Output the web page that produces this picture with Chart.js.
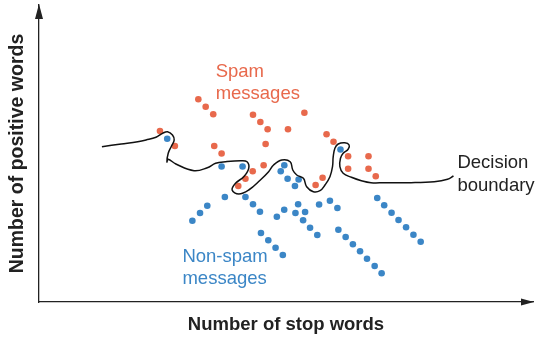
<!DOCTYPE html>
<html>
<head>
<meta charset="utf-8">
<script src="https://cdn.jsdelivr.net/npm/chart.js@4/dist/chart.umd.min.js"></script>
<style>
  html, body { margin: 0; padding: 0; background: #ffffff; }
  #wrap { width: 537px; height: 337px; position: relative; }
</style>
</head>
<body>
<div id="wrap"><canvas id="c"></canvas></div>
<script>
// ---- Data (x = number of stop words, y = number of positive words; arbitrary units) ----
const spamX = [160.3, 167.7, 175.3, 121.7, 136.7, 176.3, 183.7, 215.3, 222.7, 230.0, 250.5, 228.0, 226.0,
               215.0, 207.7, 200.5, 267.0, 289.3, 296.3, 311.0, 331.5, 311.0, 331.5, 338.8, 285.3, 278.3];
const spamY = [202.7, 195.3, 187.7, 171.0, 156.0, 156.0, 148.5, 187.3, 180.0, 172.7, 172.8, 158.0, 136.7,
               130.7, 123.2, 116.0, 189.3, 167.7, 160.3, 145.7, 145.7, 133.3, 133.3, 125.7, 124.2, 117.0];

const hamX = [129.0, 183.7, 204.8, 246.8, 243.2, 250.1, 261.2, 257.5, 303.3,
              187.0, 207.7, 215.3, 222.3, 169.3, 162.0, 154.3,
              260.7, 246.7, 239.3, 258.0, 267.7, 265.7, 272.7, 280.0,
              281.8, 292.7, 300.2, 301.2, 308.5, 315.8, 323.0, 330.0, 337.7, 344.7,
              340.3, 347.3, 354.7, 361.7, 369.3, 376.7, 384.0,
              223.3, 230.7, 238.0, 245.3];
const hamY = [163.3, 135.5, 135.5, 136.8, 130.8, 123.3, 122.5, 116.0, 152.5,
              105.0, 105.0, 97.7, 90.3, 96.3, 89.0, 81.3,
              97.7, 92.3, 85.3, 89.0, 90.0, 81.7, 74.3, 67.0,
              97.5, 101.3, 94.0, 72.3, 65.0, 57.7, 50.7, 43.3, 36.0, 28.7,
              104.0, 96.7, 89.3, 82.0, 74.7, 67.3, 60.3,
              69.0, 61.7, 54.3, 47.0];

// decision boundary (hand-drawn curve) sampled points
const boundaryX = [63.3, 82.7, 99.3, 107.7, 117.7, 124.3, 129.3, 134.3, 136.0, 133.3, 130.0, 128.7, 130.0,
                   137.7, 156.0, 169.3, 177.7, 187.7, 202.7, 209.3, 211.0, 206.0, 197.7, 194.3, 201.0,
                   211.0, 222.7, 231.0, 236.0, 244.3, 252.7, 255.3, 259.3, 266.0, 269.3, 276.0, 282.7,
                   287.7, 292.7, 295.3, 296.0, 297.7, 301.0, 307.7, 312.0, 311.0, 306.0, 303.3, 302.7,
                   306.0, 314.3, 324.3, 334.0, 347.7, 374.3, 397.7, 411.0, 417.0];
const boundaryY = [155.3, 158.0, 160.3, 162.0, 164.7, 168.7, 170.3, 167.0, 162.0, 156.0, 148.7, 140.0, 142.7,
                   138.0, 131.3, 134.3, 138.7, 140.3, 141.3, 140.3, 133.7, 125.3, 118.7, 112.0, 108.0,
                   112.0, 122.0, 130.3, 137.0, 142.0, 140.3, 132.0, 127.0, 123.7, 115.3, 110.3, 111.3,
                   117.0, 125.3, 135.3, 145.3, 153.7, 158.0, 159.3, 157.0, 152.7, 148.7, 143.7, 135.3,
                   128.7, 124.7, 121.3, 119.3, 119.3, 119.3, 120.3, 122.7, 126.0];

const xTitle = 'Number of stop words';
const yTitle = 'Number of positive words';
const spamLabel = ['Spam', 'messages'];
const hamLabel = ['Non-spam', 'messages'];
const boundaryLabel = ['Decision', 'boundary'];

// ---- Styling ----
const RED = '#E8694C';
const BLUE = '#3B86C6';
const INK = '#222222';
const LABEL_FONT = '18.5px "Liberation Sans", Arial, sans-serif';

const toPts = (xs, ys) => xs.map((x, i) => ({ x: x, y: ys[i] }));

// text annotations anchored in data coordinates (left edge, first baseline)
const annotations = [
  { lines: spamLabel, x: 177.7, y: 225.0, color: RED },
  { lines: hamLabel, x: 144.3, y: 40.3, color: BLUE },
  { lines: boundaryLabel, x: 421.0, y: 133.7, color: INK }
];

const labelPlugin = {
  id: 'labels',
  afterDatasetsDraw(chart) {
    const { ctx, scales: { x, y } } = chart;
    ctx.save();
    ctx.font = LABEL_FONT;
    ctx.textAlign = 'left';
    ctx.textBaseline = 'alphabetic';
    annotations.forEach(a => {
      ctx.fillStyle = a.color;
      const px = x.getPixelForValue(a.x);
      const py = y.getPixelForValue(a.y);
      a.lines.forEach((t, i) => ctx.fillText(t, px, py + i * 22.3));
    });
    ctx.restore();
  }
};

const arrowPlugin = {
  id: 'arrows',
  afterDraw(chart) {
    const { ctx, chartArea: ca } = chart;
    ctx.save();
    ctx.fillStyle = INK;
    // y-axis arrow
    const ax = ca.left;
    ctx.beginPath();
    ctx.moveTo(ax, ca.top - 1);
    ctx.lineTo(ax - 4, ca.top + 14);
    ctx.lineTo(ax + 4, ca.top + 14);
    ctx.closePath();
    ctx.fill();
    // x-axis arrow
    const ay = ca.bottom;
    ctx.beginPath();
    ctx.moveTo(ca.right + 1, ay);
    ctx.lineTo(ca.right - 12, ay - 3.5);
    ctx.lineTo(ca.right - 12, ay + 3.5);
    ctx.closePath();
    ctx.fill();
    ctx.restore();
  }
};

new Chart(document.getElementById('c'), {
  type: 'scatter',
  data: {
    datasets: [
      {
        label: 'Decision boundary',
        data: toPts(boundaryX, boundaryY),
        showLine: true,
        borderColor: '#111111',
        borderWidth: 1.5,
        pointRadius: 0,
        tension: 0.4,
        fill: false
      },
      {
        label: 'Spam messages',
        data: toPts(spamX, spamY),
        backgroundColor: RED,
        borderWidth: 0,
        pointRadius: 3.3
      },
      {
        label: 'Non-spam messages',
        data: toPts(hamX, hamY),
        backgroundColor: BLUE,
        borderWidth: 0,
        pointRadius: 3.3
      }
    ]
  },
  options: {
    responsive: true,
    maintainAspectRatio: false,
    animation: false,
    events: [],
    layout: { padding: { top: 5, right: 1, left: 0, bottom: 0 } },
    plugins: { legend: { display: false }, tooltip: { enabled: false } },
    scales: {
      x: {
        type: 'linear', min: 0, max: 497,
        grid: { display: false },
        border: { display: true, color: INK, width: 1.3 },
        ticks: { display: false },
        title: {
          display: true, text: xTitle, color: INK,
          font: { family: '"Liberation Sans", Arial, sans-serif', size: 18.5, weight: 'bold' },
          padding: { top: 0, bottom: 1 }
        },
        afterFit: s => { s.height = 35; }
      },
      y: {
        type: 'linear', min: 0, max: 297,
        grid: { display: false },
        border: { display: true, color: INK, width: 1.3 },
        ticks: { display: false },
        title: {
          display: true, text: yTitle, color: INK,
          font: { family: '"Liberation Sans", Arial, sans-serif', size: 19.5, weight: 'bold' },
          padding: { top: 6, bottom: 0 }
        },
        afterFit: s => { s.width = 39; }
      }
    }
  },
  plugins: [labelPlugin, arrowPlugin]
});
</script>
</body>
</html>
